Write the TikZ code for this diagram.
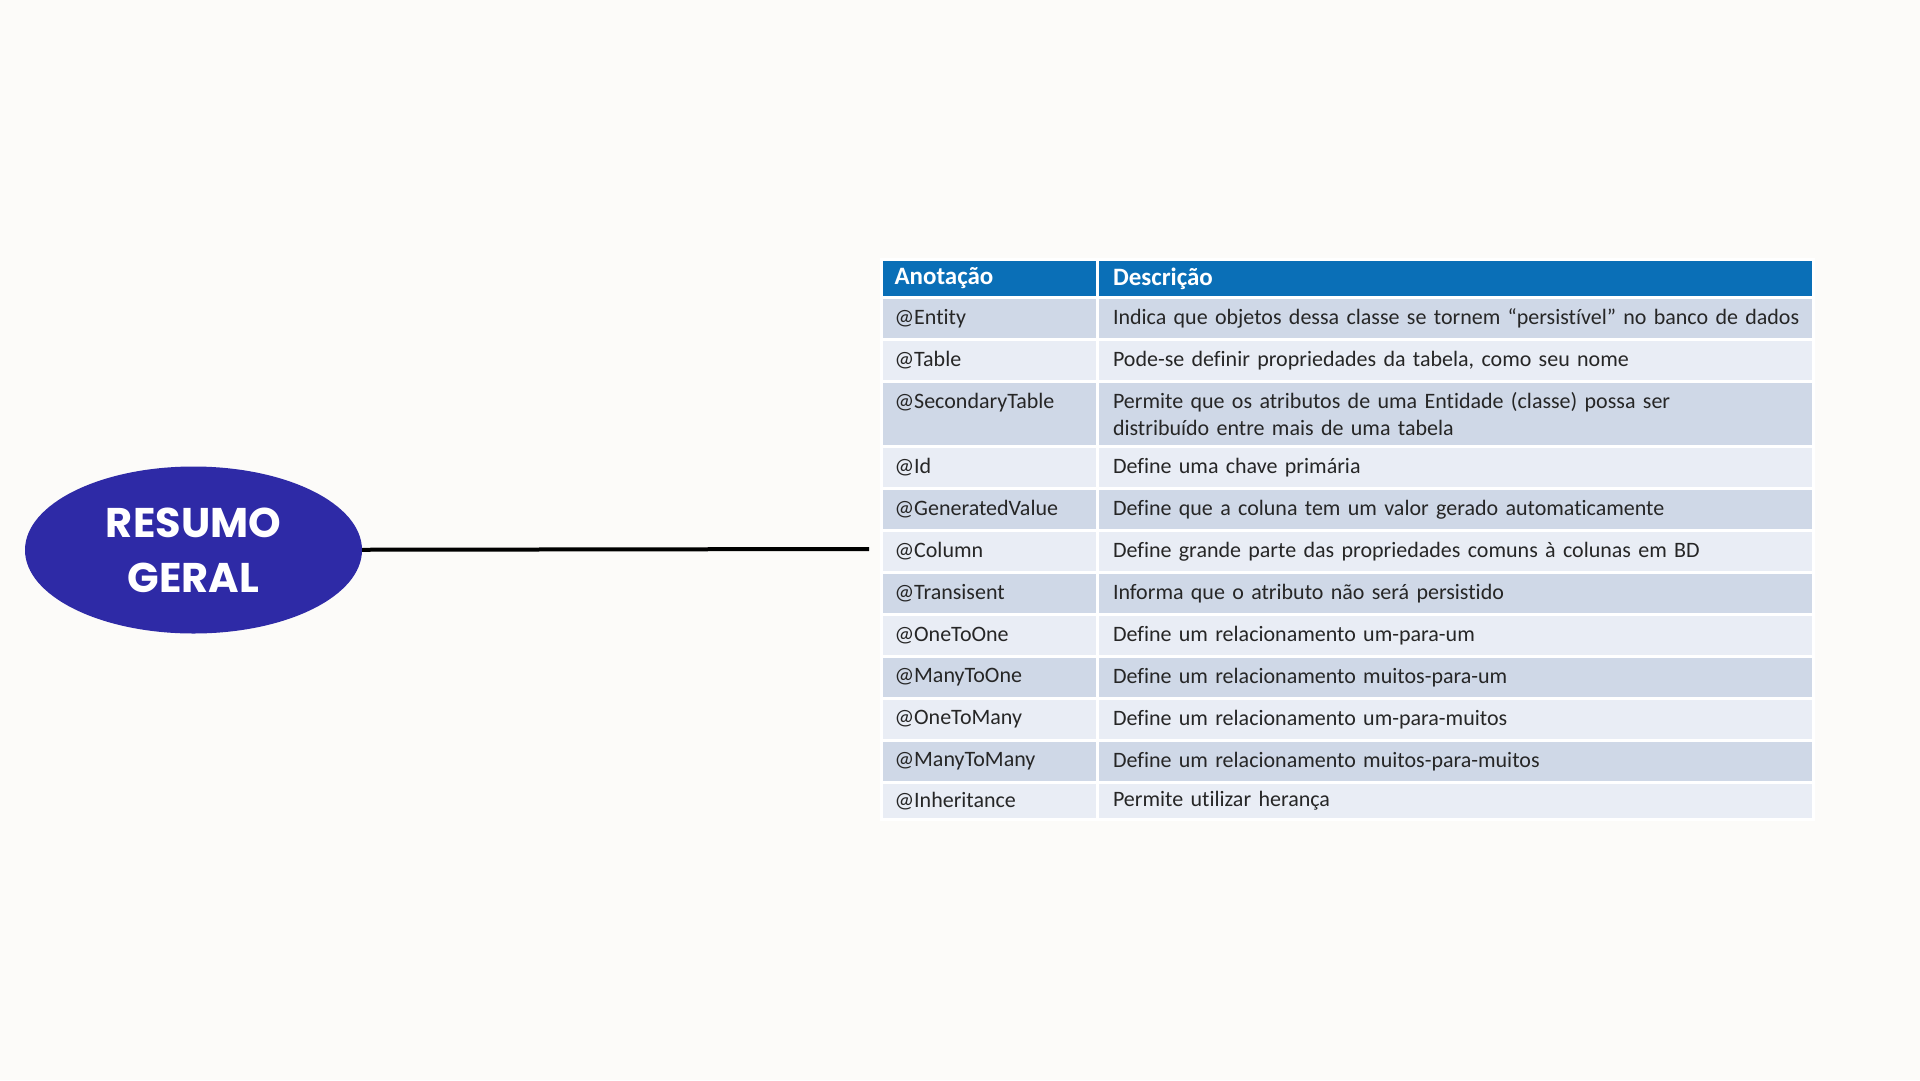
\documentclass[tikz,border=0pt]{standalone}
\usepackage{fontspec}
\setmainfont{Carlito}[Ligatures=NoCommon]
\newfontfamily\poppins{Poppins}
\usetikzlibrary{positioning,shapes.geometric}
\definecolor{paper}{HTML}{FCFBF9}
\definecolor{resumo}{HTML}{2E2AA6}
\definecolor{headblue}{HTML}{0A6FB7}
\definecolor{rowdark}{HTML}{CFD8E7}
\definecolor{rowlight}{HTML}{E9EDF5}
\definecolor{celltext}{HTML}{262626}

\begin{document}
\begin{tikzpicture}[x=1pt,y=-1pt,
    cell/.style={rectangle,draw=white,line width=3pt,outer sep=0pt,inner ysep=0pt,
      align=left,minimum height=42pt,font=\fontsize{22}{27}\selectfont,text=celltext},
    ano/.style={cell,inner xsep=13pt,text width=190pt,minimum width=216pt},
    dsc/.style={cell,inner xsep=15.5pt,text width=685pt,minimum width=716pt},
    head/.style={fill=headblue,text=white,minimum height=38pt,font=\fontsize{25}{27}\selectfont\bfseries},
    dark/.style={fill=rowdark},
    light/.style={fill=rowlight}]
    \fill[paper] (0,0) rectangle (1920,1080);
    \useasboundingbox (0,0) rectangle (1920,1080);

    \node[ellipse,fill=resumo,minimum width=337pt,minimum height=167pt,inner sep=0pt,
      align=center,text=white,font=\poppins\bfseries\fontsize{41.5}{55}\selectfont]
      (resumo) at (193.5,550) {RESUMO\\GERAL};

    \node[ano,head,anchor=north west] (ha) at (881.5,259.5) {Anotação};
    \node[dsc,head,right=0pt of ha] (hd) {Descrição};

    \node[ano,dark,below=0pt of ha] (a1) {@Entity};
    \node[dsc,dark,right=0pt of a1] (d1) {\mbox{Indica que objetos dessa classe se tornem “persistível” no banco de dados}};
    \node[ano,light,below=0pt of a1] (a2) {@Table};
    \node[dsc,light,right=0pt of a2] (d2) {Pode-se definir propriedades da tabela, como seu nome};
    \node[ano,dark,minimum height=65pt,below=0pt of a2] (a3) {@SecondaryTable\\\mbox{}};
    \node[dsc,dark,minimum height=65pt,right=0pt of a3] (d3) {Permite que os atributos de uma Entidade (classe) possa ser\\distribuído entre mais de uma tabela};
    \node[ano,light,below=0pt of a3] (a4) {@Id};
    \node[dsc,light,right=0pt of a4] (d4) {Define uma chave primária};
    \node[ano,dark,below=0pt of a4] (a5) {@GeneratedValue};
    \node[dsc,dark,right=0pt of a5] (d5) {Define que a coluna tem um valor gerado automaticamente};
    \node[ano,light,below=0pt of a5] (a6) {@Column};
    \node[dsc,light,right=0pt of a6] (d6) {Define grande parte das propriedades comuns à colunas em BD};
    \node[ano,dark,below=0pt of a6] (a7) {@Transisent};
    \node[dsc,dark,right=0pt of a7] (d7) {Informa que o atributo não será persistido};
    \node[ano,light,below=0pt of a7] (a8) {@OneToOne};
    \node[dsc,light,right=0pt of a8] (d8) {Define um relacionamento um-para-um};
    \node[ano,dark,below=0pt of a8] (a9) {@ManyToOne};
    \node[dsc,dark,right=0pt of a9] (d9) {Define um relacionamento muitos-para-um};
    \node[ano,light,below=0pt of a9] (a10) {@OneToMany};
    \node[dsc,light,right=0pt of a10] (d10) {Define um relacionamento um-para-muitos};
    \node[ano,dark,below=0pt of a10] (a11) {@ManyToMany};
    \node[dsc,dark,right=0pt of a11] (d11) {Define um relacionamento muitos-para-muitos};
    \node[ano,light,minimum height=36.5pt,below=0pt of a11] (a12) {@Inheritance};
    \node[dsc,light,minimum height=36.5pt,right=0pt of a12] (d12) {Permite utilizar herança};

    \coordinate (tip) at (869,549);
    \draw[line width=4pt] (resumo) -- (tip);
  \end{tikzpicture}
\end{document}
